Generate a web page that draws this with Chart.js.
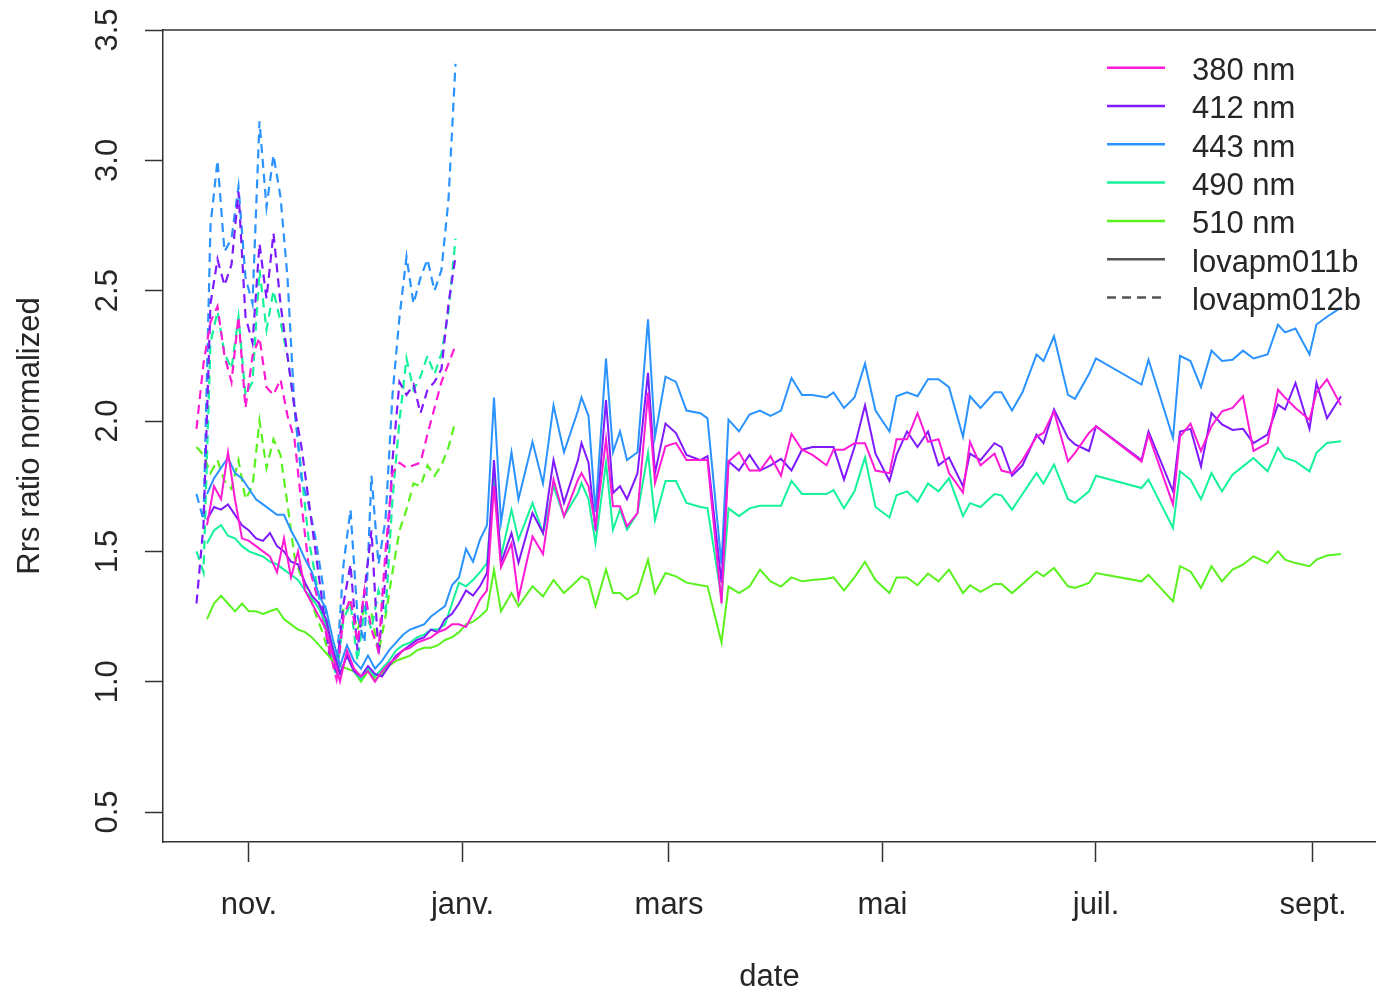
<!DOCTYPE html>
<html>
<head>
<meta charset="utf-8">
<title>Rrs ratio normalized</title>
<script src="https://cdn.jsdelivr.net/npm/chart.js@4.4.1/dist/chart.umd.min.js"></script>
<style>
  html, body { margin: 0; padding: 0; background: #fff; overflow: hidden; }
  #wrap { width: 1376px; height: 993px; }
</style>
</head>
<body>
<div id="wrap"><canvas id="rrsChart" width="1376" height="993"></canvas></div>
<script>
// days counted from 1 November
const days011 = [
  -12, -10, -8, -6, -4, -2, 0, 2, 4, 6, 8, 10, 12, 14, 16, 18, 20, 22, 24, 26,
  28, 30, 32, 34, 36, 38, 40, 42, 44, 46, 48, 50, 52, 54, 56, 58, 60,
  62, 64, 66, 68, 70, 72, 75, 77, 81, 84, 87, 90, 94, 95, 97, 99, 102, 104, 106, 108,
  111, 114, 116, 119, 122, 125, 129, 131, 135,
  137, 140, 143, 146, 149, 152, 155, 158, 161, 165, 167, 170, 173, 176, 179, 183, 185, 188, 191, 194,
  197, 200, 204, 206, 209, 213, 215, 218, 221, 225, 227, 230, 234, 236, 240, 242, 255, 257, 264, 266,
  269, 272, 275, 278, 281, 284, 287, 291, 294, 296, 299, 303, 305, 308, 312
];
const days012 = [
  -15, -13, -11, -9, -7, -5, -3, -1, 1, 3, 5, 7, 9, 11, 13, 15, 17, 19, 21, 23,
  25, 27, 29, 31, 33, 35, 37, 39, 41, 43, 45, 47, 49, 51, 53, 55, 57, 59
];

// lovapm011b (solid)
const rrs380_011 = [
  1.60, 1.75, 1.70, 1.88, 1.70, 1.55, 1.54, 1.52, 1.50, 1.48, 1.42, 1.55, 1.40, 1.50, 1.35, 1.30, 1.25, 1.20, 1.10, 1.00,
  1.12, 1.05, 1.02, 1.04, 1.00, 1.04, 1.07, 1.09, 1.12, 1.13, 1.15, 1.16, 1.17, 1.19, 1.20, 1.22, 1.22,
  1.21, 1.26, 1.315, 1.35, 1.75, 1.44, 1.53, 1.32, 1.557, 1.49, 1.775, 1.634, 1.775, 1.80, 1.75, 1.596, 1.93, 1.673, 1.673, 1.596,
  1.647, 2.108, 1.762, 1.903, 1.916, 1.85, 1.85, 1.85, 1.30,
  1.845, 1.88, 1.81, 1.81, 1.865, 1.79, 1.95, 1.89, 1.87, 1.83, 1.89, 1.89, 1.915, 1.915, 1.81, 1.80, 1.93, 1.93, 2.03, 1.92,
  1.93, 1.80, 1.725, 1.92, 1.83, 1.875, 1.81, 1.80, 1.85, 1.94, 1.954, 2.037, 1.845, 1.878, 1.954, 1.98, 1.845, 1.948, 1.68, 1.94,
  1.99, 1.885, 1.98, 2.037, 2.05, 2.095, 1.885, 1.915, 2.12, 2.09, 2.05, 2.005, 2.11, 2.16, 2.06
];
const rrs412_011 = [
  1.62, 1.67, 1.66, 1.68, 1.64, 1.60, 1.58, 1.55, 1.54, 1.57, 1.52, 1.50, 1.46, 1.45, 1.38, 1.33, 1.30, 1.24, 1.12, 1.03,
  1.10, 1.04, 1.02, 1.06, 1.03, 1.02, 1.06, 1.10, 1.12, 1.14, 1.16, 1.17, 1.20, 1.19, 1.24, 1.26, 1.30,
  1.35, 1.33, 1.366, 1.417, 1.85, 1.455, 1.57, 1.456, 1.647, 1.57, 1.85, 1.686, 1.85, 1.916, 1.84, 1.58, 2.08, 1.724, 1.75, 1.70,
  1.80, 2.185, 1.80, 1.99, 1.954, 1.87, 1.85, 1.865, 1.38,
  1.845, 1.81, 1.87, 1.81, 1.83, 1.855, 1.81, 1.89, 1.90, 1.90, 1.90, 1.775, 1.90, 2.06, 1.875, 1.77, 1.87, 1.96, 1.90, 1.96,
  1.83, 1.86, 1.75, 1.875, 1.85, 1.915, 1.90, 1.79, 1.83, 1.948, 1.915, 2.044, 1.935, 1.91, 1.885, 1.98, 1.85, 1.96, 1.73, 1.96,
  1.97, 1.826, 2.03, 1.987, 1.966, 1.97, 1.915, 1.948, 2.063, 2.044, 2.146, 1.97, 2.146, 2.01, 2.095
];
const rrs443_011 = [
  1.72, 1.78, 1.82, 1.86, 1.80, 1.78, 1.74, 1.70, 1.68, 1.66, 1.64, 1.64, 1.58, 1.53, 1.47, 1.42, 1.33, 1.28, 1.16, 1.06,
  1.14, 1.08, 1.05, 1.10, 1.05, 1.08, 1.12, 1.15, 1.18, 1.20, 1.21, 1.22, 1.25, 1.27, 1.29, 1.37, 1.40,
  1.51, 1.46, 1.545, 1.60, 2.09, 1.61, 1.88, 1.70, 1.92, 1.76, 2.06, 1.88, 2.04, 2.09, 2.02, 1.65, 2.24, 1.88, 1.96, 1.85,
  1.88, 2.39, 1.94, 2.17, 2.15, 2.04, 2.03, 2.01, 1.45,
  2.005, 1.96, 2.025, 2.04, 2.02, 2.04, 2.165, 2.10, 2.10, 2.09, 2.11, 2.05, 2.09, 2.22, 2.04, 1.96, 2.095, 2.11, 2.095, 2.16,
  2.16, 2.13, 1.94, 2.095, 2.05, 2.11, 2.11, 2.04, 2.11, 2.255, 2.23, 2.325, 2.10, 2.085, 2.18, 2.24, 2.14, 2.235, 1.935, 2.25,
  2.23, 2.13, 2.27, 2.23, 2.235, 2.27, 2.24, 2.255, 2.37, 2.34, 2.355, 2.255, 2.37, 2.40, 2.435
];
const rrs490_011 = [
  1.53, 1.58, 1.60, 1.56, 1.55, 1.52, 1.50, 1.49, 1.48, 1.46, 1.45, 1.43, 1.41, 1.39, 1.35, 1.32, 1.28, 1.22, 1.13, 1.03,
  1.10, 1.04, 1.01, 1.05, 1.02, 1.05, 1.08, 1.12, 1.14, 1.15, 1.17, 1.18, 1.20, 1.20, 1.22, 1.30, 1.38,
  1.366, 1.39, 1.42, 1.455, 1.79, 1.48, 1.66, 1.545, 1.686, 1.57, 1.75, 1.634, 1.724, 1.762, 1.70, 1.532, 1.84, 1.583, 1.66, 1.583,
  1.647, 1.878, 1.62, 1.77, 1.77, 1.686, 1.67, 1.666, 1.32,
  1.665, 1.635, 1.665, 1.675, 1.675, 1.675, 1.77, 1.72, 1.72, 1.72, 1.735, 1.665, 1.73, 1.86, 1.67, 1.63, 1.715, 1.73, 1.69, 1.76,
  1.73, 1.78, 1.635, 1.685, 1.67, 1.72, 1.715, 1.66, 1.72, 1.80, 1.76, 1.833, 1.70, 1.686, 1.73, 1.79, 1.743, 1.775, 1.59, 1.807,
  1.775, 1.70, 1.80, 1.73, 1.794, 1.826, 1.858, 1.807, 1.897, 1.858, 1.845, 1.807, 1.878, 1.916, 1.922
];
const rrs510_011 = [
  1.24, 1.30, 1.33, 1.30, 1.27, 1.30, 1.27, 1.27, 1.26, 1.27, 1.28, 1.24, 1.22, 1.20, 1.19, 1.17, 1.14, 1.11, 1.08, 1.06,
  1.05, 1.04, 1.00, 1.04, 1.01, 1.03, 1.06, 1.08, 1.09, 1.10, 1.12, 1.13, 1.13, 1.14, 1.16, 1.17, 1.19,
  1.22, 1.23, 1.25, 1.276, 1.43, 1.27, 1.34, 1.29, 1.366, 1.327, 1.39, 1.34, 1.39, 1.404, 1.39, 1.29, 1.43, 1.34, 1.34, 1.315,
  1.34, 1.468, 1.34, 1.417, 1.404, 1.38, 1.37, 1.366, 1.15,
  1.365, 1.34, 1.365, 1.43, 1.385, 1.365, 1.40, 1.385, 1.39, 1.395, 1.40, 1.35, 1.40, 1.46, 1.39, 1.34, 1.40, 1.40, 1.37, 1.415,
  1.385, 1.43, 1.34, 1.37, 1.345, 1.375, 1.375, 1.34, 1.375, 1.423, 1.404, 1.436, 1.366, 1.36, 1.379, 1.417, 1.385, 1.41, 1.308, 1.443,
  1.423, 1.36, 1.443, 1.385, 1.43, 1.449, 1.481, 1.455, 1.50, 1.468, 1.455, 1.443, 1.468, 1.484, 1.49
];

// lovapm012b (dashed)
const rrs380_012 = [
  1.97, 2.22, 2.38, 2.44, 2.25, 2.15, 2.40, 2.05, 2.25, 2.32, 2.13, 2.10, 2.16, 2.02, 1.93, 1.68, 1.45, 1.35, 1.25, 1.12,
  1.01, 1.25, 1.32, 1.15, 1.35, 1.20, 1.12, 1.50, 1.80, 1.84, 1.82, 1.83, 1.84, 1.95, 2.05, 2.15, 2.22, 2.29
];
const rrs412_012 = [
  1.30, 1.60, 2.45, 2.62, 2.52, 2.60, 2.88, 2.40, 2.30, 2.68, 2.47, 2.72, 2.45, 2.25, 2.05, 1.90, 1.70, 1.50, 1.30, 1.10,
  1.04, 1.30, 1.45, 1.12, 1.35, 1.58, 1.10, 1.40, 1.85, 2.15, 2.10, 2.14, 2.03, 2.12, 2.15, 2.20, 2.45, 2.63
];
const rrs443_012 = [
  1.72, 1.62, 2.75, 3.00, 2.65, 2.70, 2.90, 2.55, 2.45, 3.15, 2.82, 3.02, 2.86, 2.55, 2.05, 1.78, 1.68, 1.55, 1.38, 1.15,
  1.05, 1.45, 1.66, 1.25, 1.15, 1.79, 1.45, 1.62, 2.10, 2.40, 2.63, 2.45, 2.55, 2.62, 2.50, 2.58, 2.85, 3.37
];
const rrs490_012 = [
  1.50, 1.42, 2.30, 2.42, 2.26, 2.20, 2.40, 2.10, 2.15, 2.58, 2.35, 2.50, 2.38, 2.25, 2.05, 1.80, 1.55, 1.40, 1.25, 1.12,
  1.02, 1.24, 1.30, 1.08, 1.28, 1.20, 1.35, 1.26, 1.70, 2.00, 2.24, 2.12, 2.17, 2.25, 2.18, 2.26, 2.42, 2.70
];
const rrs510_012 = [
  1.90, 1.87, 1.80, 1.85, 1.77, 1.74, 1.85, 1.70, 1.75, 2.00, 1.82, 1.93, 1.87, 1.68, 1.48, 1.40, 1.35, 1.26, 1.19, 1.10,
  1.04, 1.28, 1.30, 1.20, 1.28, 1.26, 1.11, 1.25, 1.42, 1.58, 1.66, 1.76, 1.75, 1.83, 1.79, 1.83, 1.90, 2.00
];

const wavelengths = ['380 nm', '412 nm', '443 nm', '490 nm', '510 nm'];
const instruments = ['lovapm011b', 'lovapm012b'];
const monthTicks = [0, 61, 120, 181, 242, 304];
const monthLabels = ['nov.', 'janv.', 'mars', 'mai', 'juil.', 'sept.'];
const yTicks = [0.5, 1.0, 1.5, 2.0, 2.5, 3.0, 3.5];

const colors = ['#ff1ad5', '#7f1aff', '#2a93ff', '#14f29a', '#5af21e'];
const FONT = '"Liberation Sans", Arial, Helvetica, sans-serif';
const INK = '#262626';

function toPoints(days, values) {
  return days.map((d, i) => ({ x: d, y: values[i] }));
}

const solidSeries = [rrs380_011, rrs412_011, rrs443_011, rrs490_011, rrs510_011];
const dashedSeries = [rrs380_012, rrs412_012, rrs443_012, rrs490_012, rrs510_012];

const datasets = [];
solidSeries.forEach((vals, i) => {
  datasets.push({
    label: wavelengths[i] + ' ' + instruments[0],
    data: toPoints(days011, vals),
    borderColor: colors[i],
    borderWidth: 2,
    pointRadius: 0,
    tension: 0,
    fill: false
  });
});
dashedSeries.forEach((vals, i) => {
  datasets.push({
    label: wavelengths[i] + ' ' + instruments[1],
    data: toPoints(days012, vals),
    borderColor: colors[i],
    borderWidth: 2.2,
    borderDash: [9, 6],
    pointRadius: 0,
    tension: 0,
    fill: false
  });
});

// R-style legend and top border
const rLegend = {
  id: 'rLegend',
  afterDraw(chart) {
    const ctx = chart.ctx;
    const area = chart.chartArea;
    ctx.save();
    ctx.strokeStyle = '#333';
    ctx.lineWidth = 1.5;
    ctx.beginPath();
    ctx.moveTo(area.left, area.top);
    ctx.lineTo(area.right, area.top);
    ctx.stroke();

    const items = wavelengths.map((w, i) => ({ text: w, color: colors[i], dash: [] }))
      .concat([
        { text: instruments[0], color: '#555', dash: [] },
        { text: instruments[1], color: '#555', dash: [9, 6] }
      ]);
    ctx.font = '31px ' + FONT;
    ctx.textBaseline = 'alphabetic';
    ctx.textAlign = 'left';
    items.forEach((it, i) => {
      const y = 67.7 + i * 38.3;
      ctx.strokeStyle = it.color;
      ctx.lineWidth = 2.5;
      ctx.setLineDash(it.dash);
      ctx.beginPath();
      ctx.moveTo(1107, y);
      ctx.lineTo(1165, y);
      ctx.stroke();
      ctx.setLineDash([]);
      ctx.fillStyle = INK;
      ctx.fillText(it.text, 1192, y + 12.3);
    });
    ctx.restore();
  }
};

const ctx = document.getElementById('rrsChart').getContext('2d');
new Chart(ctx, {
  type: 'line',
  data: { datasets: datasets },
  options: {
    responsive: false,
    animation: false,
    devicePixelRatio: 1,
    layout: { padding: { top: 30, right: 0, bottom: 0, left: 0 } },
    plugins: {
      legend: { display: false },
      tooltip: { enabled: false }
    },
    scales: {
      x: {
        type: 'linear',
        min: -24.57,
        max: 322,
        afterBuildTicks: scale => { scale.ticks = monthTicks.map(v => ({ value: v })); },
        afterFit: scale => {
          scale.height = 151;
          scale.paddingLeft = 0;
          scale.paddingRight = 0;
        },
        grid: { drawOnChartArea: false, tickLength: 20, tickColor: '#333', tickWidth: 1.5 },
        border: { display: true, color: '#333', width: 1.5 },
        ticks: {
          autoSkip: false,
          maxRotation: 0,
          padding: 25,
          color: INK,
          font: { family: FONT, size: 31 },
          callback: v => monthLabels[monthTicks.indexOf(v)]
        },
        title: {
          display: true,
          text: 'date',
          color: INK,
          font: { family: FONT, size: 31, lineHeight: 1 },
          padding: { top: 0, bottom: 0 }
        }
      },
      y: {
        type: 'linear',
        min: 0.385,
        max: 3.5,
        afterBuildTicks: scale => { scale.ticks = yTicks.map(v => ({ value: v })); },
        afterFit: scale => {
          scale.width = 163;
          scale.paddingTop = 0;
          scale.paddingBottom = 0;
        },
        grid: { drawOnChartArea: false, tickLength: 18, tickColor: '#333', tickWidth: 1.5 },
        border: { display: true, color: '#333', width: 1.5 },
        ticks: {
          minRotation: 90,
          maxRotation: 90,
          crossAlign: 'center',
          padding: 15,
          color: INK,
          font: { family: FONT, size: 31 },
          callback: v => v.toFixed(1)
        },
        title: {
          display: true,
          text: 'Rrs ratio normalized',
          color: INK,
          font: { family: FONT, size: 31, lineHeight: 1 },
          padding: { top: 15, bottom: 15 }
        }
      }
    }
  },
  plugins: [rLegend]
});
</script>
</body>
</html>
